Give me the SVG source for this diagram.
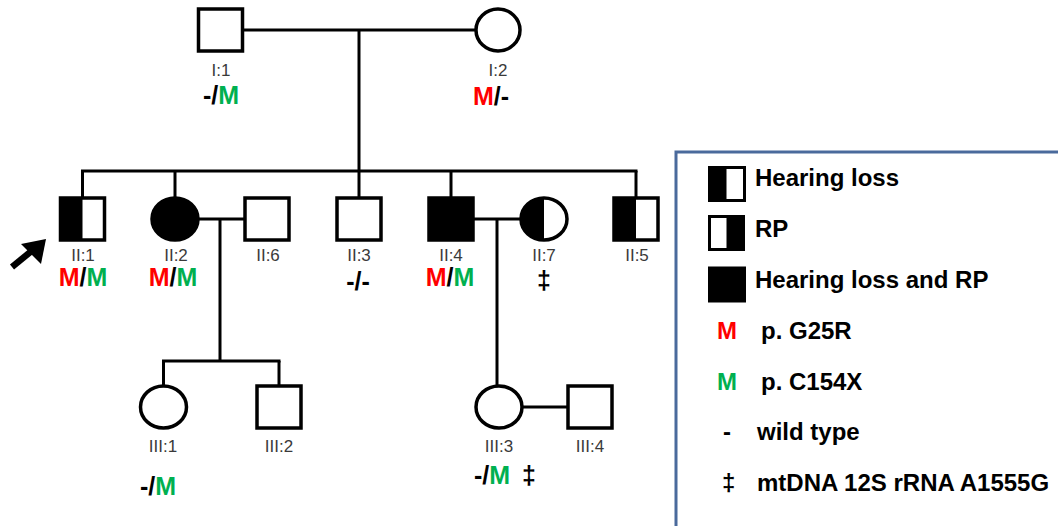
<svg xmlns="http://www.w3.org/2000/svg" width="1058" height="526" viewBox="0 0 1058 526">
<style>
.sym{fill:#fff;stroke:#000;stroke-width:3.5}
.blk{fill:#000;stroke:#000;stroke-width:3.5}
.ln{stroke:#000;stroke-width:3;fill:none}
.lbl{font-family:"Liberation Sans",Arial,sans-serif;font-size:17px;fill:#3a3a3a;text-anchor:middle}
.gt{font-family:"Liberation Sans",Arial,sans-serif;font-size:25px;font-weight:bold;fill:#000;text-anchor:middle}
.lg{font-family:"Liberation Sans",Arial,sans-serif;font-size:24px;font-weight:bold;fill:#000}
text .r, text.r, .lg.r{fill:#ff0000}
text .g, text.g, .lg.g{fill:#00b050}
</style>
<rect x="0" y="0" width="1058" height="526" fill="#fff"/>
<g id="connectors">
<line class="ln" x1="243" y1="30" x2="476" y2="30"/>
<line class="ln" x1="359" y1="30" x2="359" y2="171"/>
<line class="ln" x1="81" y1="171" x2="637.5" y2="171"/>
<line class="ln" x1="82.5" y1="171" x2="82.5" y2="198"/>
<line class="ln" x1="175" y1="171" x2="175" y2="198"/>
<line class="ln" x1="359" y1="171" x2="359" y2="198"/>
<line class="ln" x1="451" y1="171" x2="451" y2="198"/>
<line class="ln" x1="636" y1="171" x2="636" y2="198"/>
<line class="ln" x1="198" y1="219" x2="245" y2="219"/>
<line class="ln" x1="220" y1="219" x2="220" y2="361"/>
<line class="ln" x1="473" y1="219" x2="521" y2="219"/>
<line class="ln" x1="497" y1="219" x2="497" y2="386"/>
<line class="ln" x1="162" y1="361" x2="280.5" y2="361"/>
<line class="ln" x1="163.5" y1="361" x2="163.5" y2="386"/>
<line class="ln" x1="279" y1="361" x2="279" y2="386"/>
<line class="ln" x1="522" y1="407" x2="568" y2="407"/>
</g>
<g id="I1"><rect class="sym" x="198.5" y="9" width="44" height="42"/><text class="lbl" x="221" y="76">I:1</text><text class="gt" x="221" y="104">-/<tspan class="g">M</tspan></text></g>
<g id="I2"><ellipse class="sym" cx="498" cy="30" rx="22" ry="21"/><text class="lbl" x="498" y="76">I:2</text><text class="gt" x="491" y="105"><tspan class="r">M</tspan>/-</text></g>
<g id="II1"><rect class="sym" x="60.5" y="198" width="44" height="42"/><rect x="60.5" y="198" width="22" height="42" fill="#000"/><text class="lbl" x="83" y="261">II:1</text><text class="gt" x="83" y="286"><tspan class="r">M</tspan>/<tspan class="g">M</tspan></text></g>
<g id="II2"><ellipse class="blk" cx="175" cy="219" rx="23" ry="21"/><text class="lbl" x="176" y="261">II:2</text><text class="gt" x="173" y="286"><tspan class="r">M</tspan>/<tspan class="g">M</tspan></text></g>
<g id="II6"><rect class="sym" x="245" y="198" width="44" height="42"/><text class="lbl" x="268" y="261">II:6</text></g>
<g id="II3"><rect class="sym" x="337" y="198" width="44" height="42"/><text class="lbl" x="359" y="261">II:3</text><text class="gt" x="358" y="290">-/-</text></g>
<g id="II4"><rect class="blk" x="429" y="198" width="44" height="42"/><text class="lbl" x="451" y="261">II:4</text><text class="gt" x="450" y="286"><tspan class="r">M</tspan>/<tspan class="g">M</tspan></text></g>
<g id="II7"><path d="M544 198 A23 21 0 0 0 544 240 Z" fill="#000"/><ellipse cx="544" cy="219" rx="23" ry="21" fill="none" stroke="#000" stroke-width="3.5"/><text class="lbl" x="544" y="261">II:7</text><text class="gt" x="544" y="289">‡</text></g>
<g id="II5"><rect class="sym" x="614" y="198" width="44" height="42"/><rect x="614" y="198" width="22" height="42" fill="#000"/><text class="lbl" x="637" y="261">II:5</text></g>
<g id="III1"><ellipse class="sym" cx="163.5" cy="407" rx="23" ry="21"/><text class="lbl" x="163" y="452">III:1</text><text class="gt" x="158" y="495">-/<tspan class="g">M</tspan></text></g>
<g id="III2"><rect class="sym" x="257" y="386" width="44" height="42"/><text class="lbl" x="279" y="452">III:2</text></g>
<g id="III3"><ellipse class="sym" cx="499" cy="407" rx="23" ry="21"/><text class="lbl" x="499" y="452">III:3</text><text class="gt" x="492" y="484">-/<tspan class="g">M</tspan></text><text class="gt" x="529" y="484">‡</text></g>
<g id="III4"><rect class="sym" x="568" y="386" width="44" height="42"/><text class="lbl" x="590" y="452">III:4</text></g>
<g id="proband-arrow"><line x1="12" y1="267" x2="34" y2="249" stroke="#000" stroke-width="6.5"/><polygon points="46,239 21,244 41,264" fill="#000"/></g>
<g id="legend">
<rect x="676" y="152" width="400" height="380" fill="#fff" stroke="#4a6a9c" stroke-width="3"/>
<rect x="709.5" y="167.5" width="35" height="33" fill="#fff" stroke="#000" stroke-width="3"/><rect x="709.5" y="167.5" width="17" height="33" fill="#000"/>
<text class="lg" x="755" y="186">Hearing loss</text>
<rect x="709.5" y="216.5" width="34" height="33" fill="#fff" stroke="#000" stroke-width="3"/><rect x="726.5" y="216.5" width="17" height="33" fill="#000"/>
<text class="lg" x="755" y="237">RP</text>
<rect x="709.5" y="268" width="35" height="33" fill="#000" stroke="#000" stroke-width="3"/>
<text class="lg" x="755" y="288">Hearing loss and RP</text>
<text class="lg r" x="717" y="339">M</text><text class="lg" x="761" y="339">p. G25R</text>
<text class="lg g" x="717" y="390">M</text><text class="lg" x="761" y="390">p. C154X</text>
<text class="lg" x="723" y="440">-</text><text class="lg" x="757" y="440">wild type</text>
<text class="lg" x="722" y="491">‡</text><text class="lg" x="757" y="491">mtDNA 12S rRNA A1555G</text>
</g>
</svg>
